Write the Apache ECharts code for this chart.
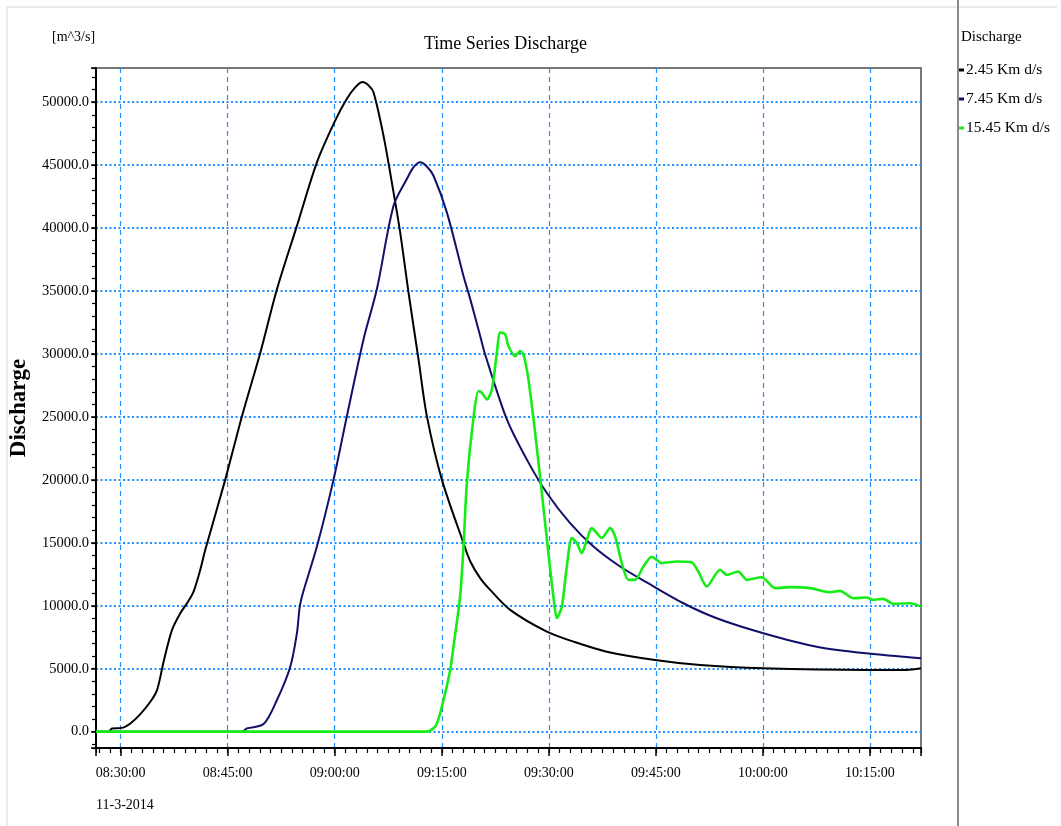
<!DOCTYPE html>
<html>
<head>
<meta charset="utf-8">
<title>Time Series Discharge</title>
<script src="https://cdn.jsdelivr.net/npm/echarts@6.0.0/dist/echarts.min.js"></script>
<style>
  html, body { margin: 0; padding: 0; background: #fff; }
  #discharge { width: 1061px; height: 826px; }
</style>
</head>
<body>
<div id="discharge"></div>
<script>
// time is minutes after 08:30:00 on 11-3-2014, values in m^3/s
const seriesNames = ['2.45 Km d/s', '7.45 Km d/s', '15.45 Km d/s'];
const seriesColors = ['#000000', '#10106a', '#16ec16'];

const blackMin = [-3.45, -1.7, -1.2, 0.2, 1.36, 2.76, 4.16, 5.1, 6.02, 7.2, 8.36, 9.3, 10.22, 11.16, 11.86, 14.66, 17.0,
  19.57, 21.9, 24.7, 27.5, 30.06, 31.7, 32.9, 33.9, 34.75, 35.43, 36.83, 38.24, 39.17, 40.34, 41.74, 42.91, 45.01,
  48.04, 49.0, 50.38, 51.78, 54.58, 59.72, 63.45, 68.12, 74.89, 81.2, 90.06, 104.5, 110.1, 112.15];
const blackVal = [0, 0, 255, 300, 650, 1390, 2370, 3300, 5560, 8080, 9410, 10200, 11130, 12860, 14450, 20020, 25060,
  30100, 35140, 40180, 45230, 48540, 50270, 51200, 51600, 51330, 50800, 47350, 42840, 39660, 34880, 29570, 25060, 20020,
  14980, 13520, 12200, 11260, 9670, 7940, 7150, 6350, 5690, 5290, 5030, 4900, 4900, 5030];

const blueMin = [-3.45, 17.0, 17.7, 20.03, 21.9, 23.77, 24.7, 25.1, 25.6, 27.5, 29.83, 31.7, 34.03, 35.9, 38.24,
  40.1, 41.0, 41.97, 42.9, 43.84, 45.71, 48.04, 49.0, 50.38, 51.0, 54.12, 56.92, 59.72, 62.98, 66.25, 69.99, 73.73,
  78.85, 83.53, 90.06, 97.53, 104.5, 112.15];
const blueVal = [0, 0, 255, 600, 2510, 5160, 7820, 9930, 11130, 14700, 20020, 25060, 31160, 35140, 41770,
  43900, 44800, 45230, 44900, 44160, 41250, 36200, 34340, 31430, 30100, 24800, 21610, 18960, 16570, 14710, 13120, 11850,
  10200, 9010, 7820, 6750, 6220, 5830];

const greenMin = [-3.45, 42.91, 44.2, 45.24, 46.18, 46.64, 47.58, 48.04, 48.52, 49.44, 50.14, 50.62, 51.32, 52.02,
  52.72, 53.18, 53.88, 54.34, 55.28, 55.98, 56.44, 57.14, 58.08, 59.02, 59.94, 60.64, 61.12, 61.82, 62.52, 63.22,
  63.92, 64.62, 65.32, 66.02, 66.72, 67.42, 68.59, 69.29, 70.22, 71.15, 72.09, 73.25, 74.43, 75.83, 77.93, 80.03,
  80.95, 82.13, 84.0, 84.93, 86.55, 87.73, 89.83, 91.7, 93.8, 96.6, 99.4, 100.8, 102.67, 104.54, 105.46, 106.86,
  108.26, 110.6, 112.15];
const greenVal = [0, 0, 500, 2510, 4900, 6750, 10800, 14710, 19780, 24950, 27050, 26920, 26390, 27180,
  30100, 31700, 31560, 30630, 29830, 30230, 29970, 27980, 23740, 18960, 14180, 10730, 9010, 9930, 13120, 15380,
  14980, 14180, 15240, 16170, 15780, 15380, 16170, 15510, 13390, 12060, 12060, 13120, 13890, 13390, 13520, 13440,
  12720, 11530, 12860, 12460, 12720, 12060, 12270, 11400, 11480, 11400, 11080, 11180, 10600, 10650, 10470, 10550,
  10150, 10200, 9930];

const dateLabel = '11-3-2014';
const unitLabel = '[m^3/s]';

const serif = "'Liberation Serif', 'Times New Roman', serif";
const startOfDay = 8 * 60 + 30;

function clock(m) {
  let s = Math.round((startOfDay + m) * 60);
  let h = Math.floor(s / 3600);
  let mm = Math.floor((s % 3600) / 60);
  let ss = s % 60;
  return [h, mm, ss].map(n => String(n).padStart(2, '0')).join(':');
}

function pairs(ts, vs) {
  return ts.map((t, i) => [t, vs[i]]);
}

let chart = echarts.init(document.getElementById('discharge'));

let xMin = -3.45, xMax = 112.15;
let yMin = -1300, yMax = 52720;

let option = {
  animation: false,
  backgroundColor: '#fff',
  title: [
    {
      text: 'Time Series Discharge',
      left: 424,
      top: 35,
      padding: 0,
      textStyle: { fontFamily: serif, fontSize: 18, fontWeight: 'normal', color: '#000' }
    },
    {
      text: unitLabel,
      left: 52,
      top: 30,
      padding: 0,
      textStyle: { fontFamily: serif, fontSize: 14, fontWeight: 'normal', color: '#000' }
    },
    {
      text: 'Discharge',
      left: 961,
      top: 30,
      padding: 0,
      textStyle: { fontFamily: serif, fontSize: 15, fontWeight: 'normal', color: '#000' }
    }
  ],
  legend: {
    orient: 'vertical',
    left: 959,
    top: 61,
    padding: 0,
    icon: 'rect',
    itemWidth: 5,
    itemHeight: 3,
    itemGap: 11,
    data: seriesNames,
    textStyle: { fontFamily: serif, fontSize: 15.5, color: '#000', lineHeight: 18, padding: [0, 0, 0, -3] }
  },
  grid: {
    left: 96,
    right: 140,
    top: 68,
    bottom: 78,
    show: true,
    borderColor: '#777',
    borderWidth: 2
  },
  xAxis: [
    {
      type: 'value',
      min: xMin,
      max: xMax,
      minInterval: 15,
      maxInterval: 15,
      axisLine: { onZero: false, lineStyle: { color: '#000', width: 2 } },
      axisTick: { length: 8, lineStyle: { color: '#000', width: 1.5 } },
      axisLabel: {
        margin: 18,
        fontFamily: serif,
        fontSize: 14,
        color: '#000',
        formatter: v => (Math.abs(v % 15) < 1e-6 ? clock(v) : '')
      },
      splitLine: {
        show: true,
        showMinLine: false,
        showMaxLine: false,
        lineStyle: { color: '#1e90ff', type: [5, 4], width: 1.2 }
      }
    },
    {
      // minor ticks every 1.5 min
      type: 'value',
      min: xMin,
      max: xMax,
      minInterval: 1.5,
      maxInterval: 1.5,
      position: 'bottom',
      axisLine: { show: false, onZero: false },
      axisTick: { length: 5, lineStyle: { color: '#000', width: 1.2 } },
      axisLabel: { show: false },
      splitLine: { show: false }
    }
  ],
  yAxis: [
    {
      type: 'value',
      min: yMin,
      max: yMax,
      minInterval: 5000,
      maxInterval: 5000,
      name: 'Discharge',
      nameLocation: 'middle',
      nameRotate: 90,
      nameGap: 58,
      nameTextStyle: { fontFamily: serif, fontSize: 23, fontWeight: 'bold', color: '#000' },
      axisLine: { show: true, onZero: false, lineStyle: { color: '#000', width: 2 } },
      axisTick: { show: true, length: 5, lineStyle: { color: '#000', width: 1.5 } },
      axisLabel: {
        margin: 7,
        fontFamily: serif,
        fontSize: 14.5,
        color: '#000',
        formatter: v => (Math.abs(v % 5000) < 1e-6 ? v.toFixed(1) : '')
      },
      splitLine: {
        show: true,
        showMinLine: false,
        showMaxLine: false,
        lineStyle: { color: '#1e90ff', type: [2, 2.5], width: 1.8 }
      }
    },
    {
      // minor ticks every 1000
      type: 'value',
      min: yMin,
      max: yMax,
      minInterval: 1000,
      maxInterval: 1000,
      position: 'left',
      axisLine: { show: false, onZero: false },
      axisTick: { show: true, length: 4, lineStyle: { color: '#000', width: 1.2 } },
      axisLabel: { show: false },
      splitLine: { show: false }
    }
  ],
  series: [
    {
      name: seriesNames[0],
      type: 'line',
      data: pairs(blackMin, blackVal),
      showSymbol: false,
      smooth: 0.3,
      color: seriesColors[0],
      lineStyle: { width: 2 }
    },
    {
      name: seriesNames[1],
      type: 'line',
      data: pairs(blueMin, blueVal),
      showSymbol: false,
      smooth: 0.3,
      color: seriesColors[1],
      lineStyle: { width: 2 }
    },
    {
      name: seriesNames[2],
      type: 'line',
      data: pairs(greenMin, greenVal),
      showSymbol: false,
      smooth: 0.25,
      color: seriesColors[2],
      lineStyle: { width: 2.6 }
    }
  ],
  graphic: [
    {
      type: 'polyline',
      silent: true,
      shape: { points: [[7, 830], [7, 7], [1057, 7]] },
      style: { stroke: '#d6d6d6', lineWidth: 1, fill: null }
    },
    {
      type: 'line',
      silent: true,
      shape: { x1: 958, y1: 0, x2: 958, y2: 826 },
      style: { stroke: '#8a8a8a', lineWidth: 2 }
    },
    {
      type: 'text',
      silent: true,
      x: 96,
      y: 805,
      style: {
        text: dateLabel,
        fontFamily: serif,
        fontSize: 14,
        fill: '#000',
        verticalAlign: 'middle'
      }
    }
  ]
};

chart.setOption(option);
</script>
</body>
</html>
